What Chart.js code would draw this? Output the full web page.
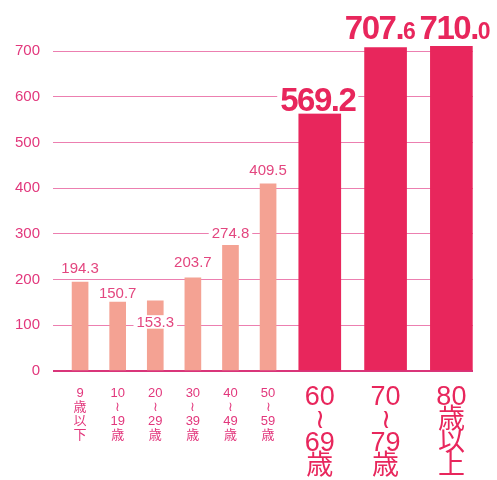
<!DOCTYPE html>
<html lang="ja">
<head>
<meta charset="utf-8">
<script src="https://cdn.jsdelivr.net/npm/chart.js@4/dist/chart.umd.min.js"></script>
<style>
  html, body { margin: 0; padding: 0; background: #fff; }
</style>
</head>
<body>
<canvas id="grafica" width="497" height="480"></canvas>
<script>
// Datos: grupos de edad (etiquetas en vertical) y valores
const categorias = [
  ['9', '歳', '以', '下'],
  ['10', '≀', '19', '歳'],
  ['20', '≀', '29', '歳'],
  ['30', '≀', '39', '歳'],
  ['40', '≀', '49', '歳'],
  ['50', '≀', '59', '歳'],
  ['60', '≀', '69', '歳'],
  ['70', '≀', '79', '歳'],
  ['80', '歳', '以', '上']
];
const valores = [194.3, 150.7, 153.3, 203.7, 274.8, 409.5, 569.2, 707.6, 710.0];
const textosValor = ['194.3', '150.7', '153.3', '203.7', '274.8', '409.5', '569.2', '707.6', '710.0'];
const ticksY = [0, 100, 200, 300, 400, 500, 600, 700];
const numDestacados = 3; // las tres últimas barras van resaltadas

// Estilos
const FUENTE = '"Liberation Sans", "Noto Sans CJK JP", sans-serif';
const ROSA_CLARO = '#f4a293';
const ROJO = '#e8265c';
const MAGENTA = '#e2377c';
const numNormales = valores.length - numDestacados;

// Anchos de ranura: las barras grandes ocupan más espacio horizontal
const INICIO_RANURA = 0.22;
const TOTAL_RANURA = 11.17;
const pesoRanura = (i) => (i < numNormales ? 1 : 1.75);

// Escala de categorías con ranuras de ancho desigual
class EscalaRanuras extends Chart.CategoryScale {
  getPixelForValue(value) {
    const v = typeof value === 'number' ? value : this.parse(value);
    if (v === null || isNaN(v)) return NaN;
    let u = INICIO_RANURA;
    for (let k = 0; k < v; k++) u += pesoRanura(k);
    u += pesoRanura(v) / 2;
    return this.getPixelForDecimal(u / TOTAL_RANURA);
  }
}
EscalaRanuras.id = 'ranuras';
EscalaRanuras.defaults = Chart.CategoryScale.defaults;
Chart.register(EscalaRanuras);

// Ajustes de posición de cada etiqueta respecto a su barra
const elevacion = [15, 10, -21, 16, 13, 14, 12, 20, 19];
const desplazX = [0, 0, 0, 0, 0, 0, -2, -6, 3];

// Prepara texto, fuente y caja de cada etiqueta
function medirEtiqueta(ctx, bar, i) {
  const grande = i >= numNormales;
  const tam = grande ? 33 : 15;
  const peso = grande ? 'bold ' : '';
  const texto = textosValor[i];
  // cifra final más pequeña en 707.6 y 710.0
  let principal = texto, cola = '';
  if (i >= valores.length - 2) {
    principal = texto.slice(0, -1);
    cola = texto.slice(-1);
  }
  const fuenteP = peso + tam + 'px ' + FUENTE;
  const fuenteC = peso + Math.round(tam * 0.7) + 'px ' + FUENTE;
  ctx.letterSpacing = grande ? '-1.5px' : '0px';
  ctx.font = fuenteP;
  const anchoP = ctx.measureText(principal).width;
  ctx.font = fuenteC;
  const anchoC = cola ? ctx.measureText(cola).width : 0;
  const ancho = anchoP + anchoC;
  const cy = bar.y - elevacion[i];
  return {
    grande, tam, principal, cola, fuenteP, fuenteC, anchoP, ancho, cy,
    x0: bar.x + desplazX[i] - ancho / 2,
    base: cy + tam * 0.36
  };
}

// Plugin para dibujar los valores encima de las barras con fondo blanco
const etiquetasBarras = {
  id: 'etiquetasBarras',
  afterDatasetsDraw(chart) {
    const ctx = chart.ctx;
    const items = [];
    ctx.save();
    chart.data.datasets.forEach((ds, d) => {
      chart.getDatasetMeta(d).data.forEach((bar, i) => {
        if (ds.data[i] == null) return;
        items.push(medirEtiqueta(ctx, bar, i));
      });
    });
    // primero los fondos, luego los textos
    ctx.fillStyle = '#ffffff';
    items.forEach((e) => {
      ctx.fillRect(e.x0 - 3, e.cy - e.tam * 0.45, e.ancho + 6, e.tam * 0.9);
    });
    ctx.textAlign = 'left';
    ctx.textBaseline = 'alphabetic';
    items.forEach((e) => {
      ctx.letterSpacing = e.grande ? '-1.5px' : '0px';
      ctx.fillStyle = e.grande ? ROJO : '#e3467f';
      ctx.font = e.fuenteP;
      ctx.fillText(e.principal, e.x0, e.base);
      if (e.cola) {
        ctx.font = e.fuenteC;
        ctx.fillText(e.cola, e.x0 + e.anchoP, e.base);
      }
    });
    ctx.restore();
  }
};

new Chart(document.getElementById('grafica').getContext('2d'), {
  type: 'bar',
  data: {
    labels: categorias,
    datasets: [
      {
        data: valores.map((v, i) => (i < numNormales ? v : null)),
        backgroundColor: ROSA_CLARO,
        barThickness: 16,
        grouped: false
      },
      {
        data: valores.map((v, i) => (i >= numNormales ? v : null)),
        backgroundColor: ROJO,
        barThickness: 42,
        grouped: false
      }
    ]
  },
  options: {
    responsive: false,
    animation: false,
    clip: false,
    layout: { padding: { top: 51, right: 24, left: 0, bottom: 0 } },
    plugins: {
      legend: { display: false },
      tooltip: { enabled: false }
    },
    scales: {
      x: {
        type: 'ranuras',
        grid: { display: false, drawTicks: false },
        border: { display: false },
        afterFit: (scale) => { scale.height = 109; },
        ticks: {
          autoSkip: false,
          maxRotation: 0,
          padding: 15,
          color: (c) => (c.index >= numNormales ? ROJO : MAGENTA),
          font: (c) => (c.index >= numNormales
            ? { family: FUENTE, size: 27, lineHeight: 0.85 }
            : { family: FUENTE, size: 13, lineHeight: 1.08 })
        }
      },
      y: {
        min: 0,
        max: 700,
        afterFit: (scale) => { scale.width = 53; },
        afterBuildTicks: (scale) => { scale.ticks = ticksY.map((v) => ({ value: v })); },
        border: { display: false },
        grid: {
          drawTicks: false,
          color: (c) => (c.tick && c.tick.value === 0 ? '#d9357a' : '#ec7fb0'),
          lineWidth: (c) => (c.tick && c.tick.value === 0 ? 2 : 1)
        },
        ticks: {
          padding: 13,
          color: MAGENTA,
          font: { family: FUENTE, size: 15 }
        }
      }
    }
  },
  plugins: [etiquetasBarras]
});
</script>
</body>
</html>
